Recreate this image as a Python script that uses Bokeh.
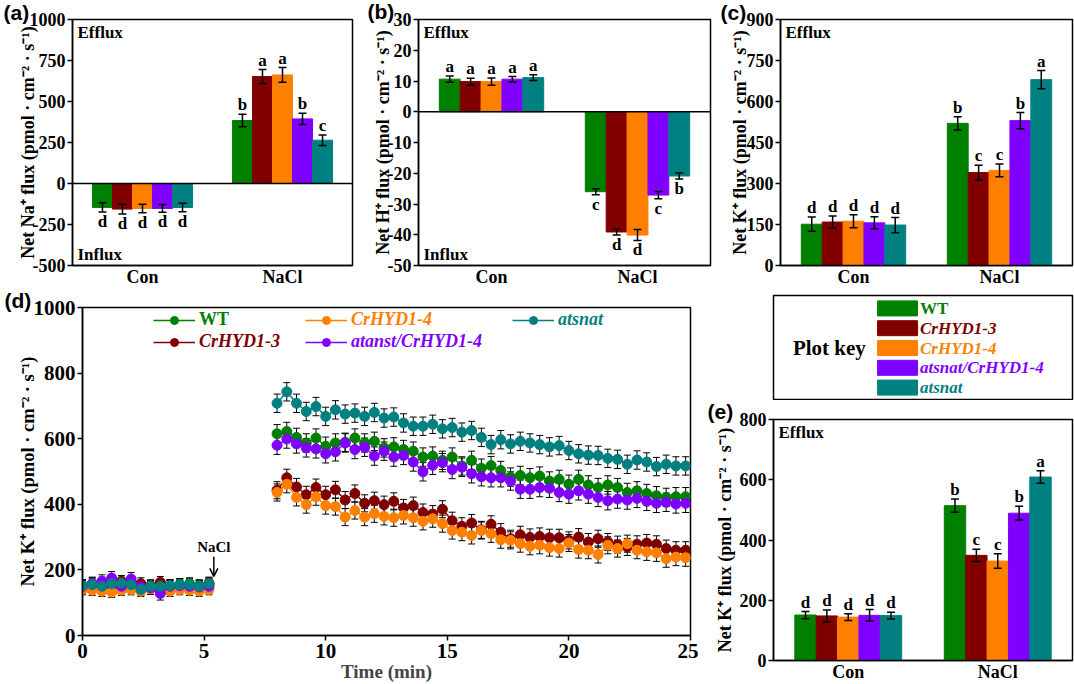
from bokeh.plotting import figure
from bokeh.models import (ColumnDataSource, FactorRange, Range1d, FixedTicker, Whisker,
                          TeeHead, Label, Span, Legend, LegendItem, Arrow, OpenHead)
from bokeh.transform import dodge
from bokeh.layouts import row, column
from bokeh.embed import file_html
from bokeh.resources import INLINE
from bokeh.core.properties import value

SERIF = "Liberation Serif"
SANS = "Liberation Sans"

# ---------------- data ----------------
GROUPS = ["Con", "NaCl"]
GENOTYPES = ["WT", "CrHYD1-3", "CrHYD1-4", "atsnat/CrHYD1-4", "atsnat"]
COLORS = ["#008000", "#800000", "#FF8000", "#8000FF", "#008080"]
LINE_LABELS = ["WT", "CrHYD1-3", "CrHYD1-4", "atanst/CrHYD1-4", "atsnat"]

# (a) Net Na+ flux
NA_CON = [-146, -156, -152, -152, -146]
NA_CON_ERR = [28, 30, 26, 24, 26]
NA_NACL = [384, 652, 662, 394, 264]
NA_NACL_ERR = [38, 43, 45, 35, 32]
NA_CON_LET = ["d", "d", "d", "d", "d"]
NA_NACL_LET = ["b", "a", "a", "b", "c"]

# (b) Net H+ flux
H_CON = [10.6, 9.8, 9.8, 10.6, 11.1]
H_CON_ERR = [1.0, 1.1, 1.2, 0.9, 0.9]
H_NACL = [-26.0, -39.1, -40.1, -27.1, -20.9]
H_NACL_ERR = [1.0, 1.0, 1.8, 1.2, 1.0]
H_CON_LET = ["a", "a", "a", "a", "a"]
H_NACL_LET = ["c", "d", "d", "c", "b"]

# (c) Net K+ flux
K_CON = [151, 159, 162, 156, 148]
K_CON_ERR = [26, 22, 24, 22, 28]
K_NACL = [520, 340, 348, 530, 680]
K_NACL_ERR = [24, 27, 23, 30, 33]
K_CON_LET = ["d", "d", "d", "d", "d"]
K_NACL_LET = ["b", "c", "c", "b", "a"]

# (e) Net K+ flux
E_CON = [151, 148, 144, 150, 149]
E_CON_ERR = [12, 20, 11, 19, 11]
E_NACL = [514, 349, 330, 489, 609]
E_NACL_ERR = [22, 20, 24, 23, 21]
E_CON_LET = ["d", "d", "d", "d", "d"]
E_NACL_LET = ["b", "c", "c", "b", "a"]

# (d) time course of net K+ flux
T_BASE = [0.0, 0.4, 0.8, 1.2, 1.6, 2.0, 2.4, 2.8, 3.2, 3.6, 4.0, 4.4, 4.8, 5.2]
T_SALT = [8.0, 8.4, 8.8, 9.2, 9.6, 10.0, 10.4, 10.8, 11.2, 11.6, 12.0, 12.4, 12.8,
          13.2, 13.6, 14.0, 14.4, 14.8, 15.2, 15.6, 16.0, 16.4, 16.8, 17.2, 17.6,
          18.0, 18.4, 18.8, 19.2, 19.6, 20.0, 20.4, 20.8, 21.2, 21.6, 22.0, 22.4,
          22.8, 23.2, 23.6, 24.0, 24.4, 24.8]

WT_BASE = [150, 158, 155, 160, 155, 150, 148, 152, 145, 150, 155, 158, 152, 155]
CR3_BASE = [145, 150, 160, 152, 165, 160, 158, 150, 162, 148, 150, 150, 148, 160]
CR4_BASE = [140, 138, 135, 132, 138, 140, 135, 142, 138, 135, 140, 138, 135, 140]
ATCR_BASE = [150, 158, 165, 175, 150, 172, 148, 145, 128, 150, 152, 150, 148, 150]
AT_BASE = [152, 155, 150, 158, 160, 155, 140, 150, 150, 152, 155, 155, 150, 158]

WT_SALT = [615, 622, 604, 587, 602, 577, 587, 589, 602, 587, 592, 572, 575, 567, 562,
           544, 547, 534, 544, 517, 534, 510, 518, 503, 483, 488, 481, 486, 471, 476,
           461, 476, 459, 451, 459, 451, 436, 441, 433, 426, 421, 423, 423]
CR3_SALT = [443, 481, 453, 429, 451, 429, 444, 413, 433, 403, 411, 399, 409, 389, 396,
            375, 370, 385, 350, 333, 343, 322, 339, 315, 295, 307, 299, 302, 298, 298,
            290, 300, 285, 295, 285, 277, 270, 278, 282, 278, 265, 260, 260]
CR4_SALT = [436, 461, 421, 399, 423, 396, 393, 361, 381, 361, 371, 363, 359, 366, 359,
            348, 356, 341, 320, 315, 305, 320, 310, 292, 290, 280, 272, 275, 268, 265,
            282, 262, 260, 247, 275, 265, 280, 260, 255, 252, 234, 239, 237]
ATCR_SALT = [580, 599, 584, 572, 569, 554, 560, 587, 567, 574, 547, 562, 544, 549, 529,
             499, 519, 527, 506, 513, 493, 484, 481, 481, 471, 446, 446, 451, 449, 436,
             431, 441, 431, 421, 411, 416, 413, 418, 409, 403, 406, 401, 403]
AT_SALT = [708, 743, 708, 683, 698, 668, 688, 675, 678, 668, 680, 663, 666, 648, 638,
           638, 644, 630, 634, 620, 625, 604, 582, 597, 584, 592, 587, 582, 575, 579,
           564, 554, 550, 549, 540, 537, 522, 535, 529, 515, 522, 517, 517]

BASE_SERIES = [WT_BASE, CR3_BASE, CR4_BASE, ATCR_BASE, AT_BASE]
SALT_SERIES = [WT_SALT, CR3_SALT, CR4_SALT, ATCR_SALT, AT_SALT]
BASE_ERR = [18, 18, 16, 20, 18]
SALT_ERR = [28, 26, 26, 28, 28]

NACL_TIME = 5.4
NACL_TEXT_Y = 244
NACL_ARROW_Y = [240, 180]

YLAB_NA = "Net Na\u207a flux (pmol \u00b7 cm\u207b\u00b2 \u00b7 s\u207b\u00b9)"
YLAB_H = "Net H\u207a flux (pmol \u00b7 cm\u207b\u00b2 \u00b7 s\u207b\u00b9)"
YLAB_K = "Net K\u207a flux (pmol \u00b7 cm\u207b\u00b2 \u00b7 s\u207b\u00b9)"

BAR_W = 0.143


def style_common(p, tick_size, ylabel, ylabel_size, ylabel_standoff):
    p.xgrid.visible = False
    p.ygrid.visible = False
    p.outline_line_color = "black"
    p.outline_line_width = 1.5
    p.outline_line_alpha = 1.0
    p.background_fill_color = "white"
    p.border_fill_color = "white"
    for ax in (p.xaxis[0], p.yaxis[0]):
        ax.axis_line_width = 1.5
        ax.axis_line_color = "black"
        ax.major_label_text_font = SERIF
        ax.major_label_text_font_style = "bold"
        ax.major_label_text_font_size = tick_size
        ax.major_label_text_color = "black"
        ax.minor_tick_line_color = None
        ax.minor_tick_out = 0
        ax.minor_tick_in = 0
        ax.major_tick_line_width = 1.5
        ax.major_tick_line_color = "black"
    p.yaxis.major_tick_out = 5
    p.yaxis.major_tick_in = 0
    p.yaxis.major_label_standoff = 2
    p.yaxis.axis_label = ylabel
    p.yaxis.axis_label_text_font = SERIF
    p.yaxis.axis_label_text_font_style = "bold"
    p.yaxis.axis_label_text_font_size = ylabel_size
    p.yaxis.axis_label_text_color = "black"
    p.yaxis.axis_label_standoff = ylabel_standoff


def add_tag(p, text, dx, standoff):
    p.title.text = text
    p.title.align = "left"
    p.title.offset = dx
    p.title.standoff = standoff
    p.title.text_font = SANS
    p.title.text_font_style = "bold"
    p.title.text_font_size = "21px"
    p.title.text_color = "black"


def bar_panel(tag, con, con_err, nacl, nacl_err, con_let, nacl_let, ylo, yhi, ticks,
              ylabel, width, height, bl, br, bt, bb, influx, tag_dx, tag_so, zero_line,
              ylab_so):
    p = figure(width=width, height=height, x_range=FactorRange(*GROUPS),
               y_range=Range1d(ylo, yhi), output_backend="svg", toolbar_location=None,
               min_border_left=bl, min_border_right=br, min_border_top=bt,
               min_border_bottom=bb)
    style_common(p, "18px", ylabel, "18px", ylab_so)
    p.yaxis.ticker = FixedTicker(ticks=ticks)
    p.yaxis.major_label_overrides = {t: str(t) for t in ticks}
    p.xaxis.major_tick_line_color = None
    p.xaxis.major_tick_out = 0
    p.xaxis.major_tick_in = 0
    p.xaxis.major_label_text_font_size = "18px"
    p.xaxis.major_label_standoff = 1
    frame_h = height - bt - bb
    pad = 9.5 * (yhi - ylo) / frame_h
    if zero_line:
        p.add_layout(Span(location=0, dimension="width", line_color="black",
                          line_width=1.5))
    for i, c in enumerate(COLORS):
        vals = [con[i], nacl[i]]
        errs = [con_err[i], nacl_err[i]]
        up = [v + e for v, e in zip(vals, errs)]
        lo = [v - e for v, e in zip(vals, errs)]
        ly = [u + pad if v >= 0 else l - pad for v, u, l in zip(vals, up, lo)]
        src = ColumnDataSource(dict(group=GROUPS, val=vals, upper=up, lower=lo, ly=ly,
                                    letter=[con_let[i], nacl_let[i]]))
        off = (i - 2) * BAR_W
        xs = dodge("group", off, range=p.x_range)
        p.vbar(x=xs, top="val", bottom=0, width=BAR_W, source=src,
               fill_color=c, line_color=c)
        p.add_layout(Whisker(base=xs, upper="upper", lower="lower", source=src,
                             level="annotation", line_color="black", line_width=1.5,
                             upper_head=TeeHead(size=8, line_width=1.5, line_color="black"),
                             lower_head=TeeHead(size=8, line_width=1.5, line_color="black")))
        p.text(x=xs, y="ly", text="letter", source=src, text_align="center",
               text_baseline="middle", text_font=value(SERIF), text_font_style="bold",
               text_font_size="17px", text_color="black")
    p.add_layout(Label(x=0, y=yhi, x_offset=5, y_offset=-3, text="Efflux",
                       text_font=SERIF, text_font_style="bold", text_font_size="17px",
                       text_baseline="top", text_color="black"))
    if influx:
        p.add_layout(Label(x=0, y=ylo, x_offset=5, y_offset=2, text="Influx",
                           text_font=SERIF, text_font_style="bold", text_font_size="17px",
                           text_baseline="bottom", text_color="black"))
    add_tag(p, tag, tag_dx, tag_so)
    return p


pa = bar_panel("(a)", NA_CON, NA_CON_ERR, NA_NACL, NA_NACL_ERR, NA_CON_LET, NA_NACL_LET,
               -500, 1000, [-500, -250, 0, 250, 500, 750, 1000], YLAB_NA,
               355, 290, 72, 3, 17, 25, True, -69, -8, True, -11)
pb = bar_panel("(b)", H_CON, H_CON_ERR, H_NACL, H_NACL_ERR, H_CON_LET, H_NACL_LET,
               -50, 30, [-50, -40, -30, -20, -10, 0, 10, 20, 30], YLAB_H,
               358, 290, 63, 3, 19, 22, True, -51, -6, True, -8)
pc = bar_panel("(c)", K_CON, K_CON_ERR, K_NACL, K_NACL_ERR, K_CON_LET, K_NACL_LET,
               0, 900, [0, 150, 300, 450, 600, 750, 900], YLAB_K,
               361, 290, 67, 2, 17, 23, False, -60, -8, False, -6)
pe = bar_panel("(e)", E_CON, E_CON_ERR, E_NACL, E_NACL_ERR, E_CON_LET, E_NACL_LET,
               0, 800, [0, 200, 400, 600, 800], YLAB_K,
               376, 284, 73, 2, 17, 22, False, -66, -6, False, 2)

# ---------------- (d) time course ----------------
pd_ = figure(width=698, height=394, x_range=Range1d(0, 25), y_range=Range1d(0, 1000),
             output_backend="svg", toolbar_location=None, min_border_left=82,
             min_border_right=8, min_border_top=17, min_border_bottom=46)
style_common(pd_, "21px", YLAB_K, "18.5px", -7)
pd_.xaxis.ticker = FixedTicker(ticks=[0, 5, 10, 15, 20, 25])
pd_.yaxis.ticker = FixedTicker(ticks=[0, 200, 400, 600, 800, 1000])
pd_.xaxis.major_tick_out = 5
pd_.xaxis.major_tick_in = 0
pd_.xaxis.major_label_standoff = 3
pd_.xaxis.axis_label = "Time (min)"
pd_.xaxis.axis_label_text_font = SERIF
pd_.xaxis.axis_label_text_font_style = "bold"
pd_.xaxis.axis_label_text_font_size = "19px"
pd_.xaxis.axis_label_standoff = 0

legend_locs = [(71, 305), (71, 283), (223, 305), (223, 283), (430, 305)]
for i, c in enumerate(COLORS):
    for ts, ys, err in ((T_BASE, BASE_SERIES[i], BASE_ERR[i]),
                        (T_SALT, SALT_SERIES[i], SALT_ERR[i])):
        src = ColumnDataSource(dict(t=ts, y=ys, upper=[v + err for v in ys],
                                    lower=[v - err for v in ys]))
        pd_.add_layout(Whisker(base="t", upper="upper", lower="lower", source=src,
                               line_color="black", line_width=1,
                               upper_head=TeeHead(size=7, line_width=1, line_color="black"),
                               lower_head=TeeHead(size=7, line_width=1, line_color="black")))
        ln = pd_.line("t", "y", source=src, line_color=c, line_width=1.5)
        sc = pd_.scatter("t", "y", source=src, size=10, marker="circle",
                         fill_color=c, line_color=c)
    leg = Legend(items=[LegendItem(label=LINE_LABELS[i], renderers=[ln, sc])],
                 location=legend_locs[i], background_fill_alpha=0, border_line_alpha=0,
                 label_text_color=c, label_text_font=SERIF,
                 label_text_font_style="bold" if i == 0 else "bold italic",
                 label_text_font_size="18px", glyph_width=42, glyph_height=20,
                 label_height=20, padding=0, margin=0, spacing=0, label_standoff=4)
    pd_.add_layout(leg)

pd_.add_layout(Label(x=NACL_TIME, y=NACL_TEXT_Y, text="NaCl", text_font=SERIF,
                     text_font_style="bold", text_font_size="15px", text_align="center",
                     text_baseline="bottom", text_color="black"))
pd_.add_layout(Arrow(end=OpenHead(size=8, line_width=1.5, line_color="black"),
                     x_start=NACL_TIME, y_start=NACL_ARROW_Y[0], x_end=NACL_TIME,
                     y_end=NACL_ARROW_Y[1], line_width=1.5, line_color="black"))
add_tag(pd_, "(d)", -78, -8)

# ---------------- plot key ----------------
pk = figure(width=376, height=110, x_range=Range1d(0, 1),
            y_range=FactorRange(*reversed(GENOTYPES), range_padding=0.06),
            output_backend="svg", toolbar_location=None, min_border_left=75,
            min_border_right=2, min_border_top=5, min_border_bottom=0)
pk.axis.visible = False
pk.xgrid.visible = False
pk.ygrid.visible = False
pk.outline_line_color = "black"
pk.outline_line_width = 1.5
pk.outline_line_alpha = 1.0
ksrc = ColumnDataSource(dict(label=GENOTYPES, color=COLORS))
pk.rect(x=0.415, y="label", width=40, height=15, width_units="screen",
        height_units="screen", fill_color="color", line_color="color", source=ksrc)
ksrc_wt = ColumnDataSource(dict(label=GENOTYPES[:1], color=COLORS[:1]))
ksrc_it = ColumnDataSource(dict(label=GENOTYPES[1:], color=COLORS[1:]))
pk.text(x=0.49, y="label", text="label", text_color="color", source=ksrc_wt,
        text_font=value(SERIF), text_font_style="bold", text_font_size="17px",
        text_baseline="middle", text_align="left")
pk.text(x=0.49, y="label", text="label", text_color="color", source=ksrc_it,
        text_font=value(SERIF), text_font_style="bold italic", text_font_size="17px",
        text_baseline="middle", text_align="left")
pk.add_layout(Label(x=0.065, y=2.5, text="Plot key", text_font=SERIF,
                    text_font_style="bold", text_font_size="21px",
                    text_baseline="middle", text_align="left", text_color="black"))

layout = column(row(pa, pb, pc), row(pd_, column(pk, pe)))
open("out.html", "w").write(file_html(layout, INLINE))
